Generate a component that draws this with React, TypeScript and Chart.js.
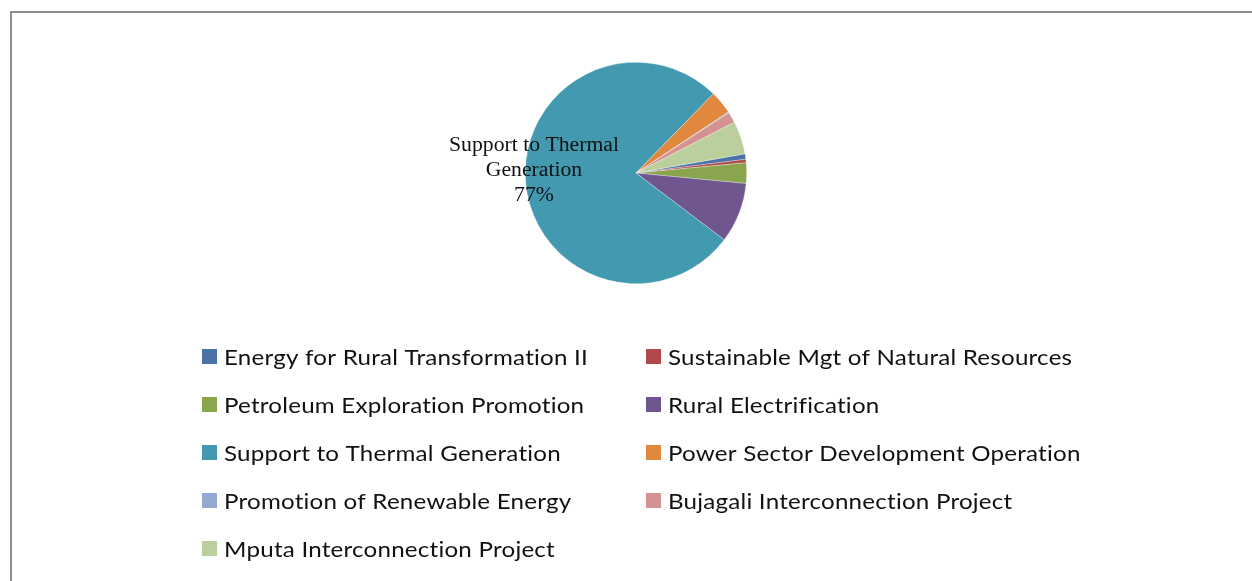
import React, { useEffect, useRef } from "react";
import { Chart, registerables } from "chart.js";

Chart.register(...registerables);

const categories = [
  "Energy for Rural Transformation II",
  "Sustainable Mgt of Natural Resources",
  "Petroleum Exploration Promotion",
  "Rural Electrification",
  "Support to Thermal Generation",
  "Power Sector Development Operation",
  "Promotion of Renewable Energy",
  "Bujagali Interconnection Project",
  "Mputa Interconnection Project",
];

const shares = [0.8, 0.5, 3.0, 8.8, 77.0, 3.4, 0.1, 1.6, 4.8];

const sliceColors = [
  "#4A72A8",
  "#B04A48",
  "#89A64F",
  "#70568F",
  "#4399B0",
  "#DF883E",
  "#93A9CF",
  "#D49392",
  "#BACF9B",
];

const calloutIndex = 4;
const calloutLines = ["Support to Thermal", "Generation"];

const calloutPlugin = {
  id: "callout",
  afterDatasetsDraw(chart: any) {
    const meta = chart.getDatasetMeta(0);
    const arc = meta.data[calloutIndex];
    if (!arc) return;
    const data = chart.data.datasets[0].data as number[];
    const total = data.reduce((a, b) => a + b, 0);
    const pct = Math.round((data[calloutIndex] / total) * 100) + "%";
    const lines = [...calloutLines, pct];
    const ctx = chart.ctx;
    ctx.save();
    ctx.font = "20px 'Liberation Serif', serif";
    ctx.fillStyle = "#111";
    ctx.textBaseline = "alphabetic";
    ctx.textAlign = "center";
    const sx = 170 / ctx.measureText(calloutLines[0]).width;
    const cx = arc.x - 102;
    const y0 = arc.y - 22;
    lines.forEach((t, i) => {
      ctx.save();
      ctx.translate(cx, y0 + i * 25);
      ctx.scale(sx, 1);
      ctx.fillText(t, 0, 0);
      ctx.restore();
    });
    ctx.restore();
  },
};

const legendPlugin = {
  id: "twoColLegend",
  afterDraw(chart: any) {
    const ctx = chart.ctx;
    const labels = chart.data.labels as string[];
    const colors = chart.data.datasets[0].backgroundColor as string[];
    const colX = [202, 646];
    const rowTop = 349;
    const rowGap = 48;
    const box = 15;
    ctx.save();
    ctx.font = "22px Lato, 'Open Sans', sans-serif";
    try {
      (ctx as any).letterSpacing = "0.2px";
    } catch (e) {}
    ctx.textBaseline = "alphabetic";
    ctx.textAlign = "left";
    const sx = 364 / ctx.measureText(labels[0]).width;
    labels.forEach((lab, i) => {
      const col = i % 2;
      const row = Math.floor(i / 2);
      const x = colX[col];
      const y = rowTop + row * rowGap;
      ctx.fillStyle = colors[i];
      ctx.fillRect(x, y, box, box);
      ctx.fillStyle = "#111";
      ctx.save();
      ctx.translate(x + 22, y + 16);
      ctx.scale(sx, 1);
      ctx.fillText(lab, 0, 0);
      ctx.restore();
    });
    ctx.restore();
  },
};

export default function App() {
  const ref = useRef<HTMLCanvasElement | null>(null);
  useEffect(() => {
    if (!ref.current) return;
    const chart = new Chart(ref.current, {
      type: "pie",
      data: {
        labels: categories,
        datasets: [
          {
            data: shares,
            backgroundColor: sliceColors,
            borderColor: "rgba(255,255,255,0.5)",
            borderWidth: 0.6,
          },
        ],
      },
      options: {
        animation: false,
        responsive: true,
        maintainAspectRatio: false,
        rotation: 80,
        layout: { padding: { left: 525, right: 505, top: 62, bottom: 297 } },
        plugins: {
          legend: { display: false },
          tooltip: { enabled: false },
          title: { display: false },
        },
      },
      plugins: [calloutPlugin, legendPlugin],
    });
    return () => chart.destroy();
  }, []);

  return (
    <div
      style={{
        position: "fixed",
        left: 0,
        top: 0,
        width: 1252,
        height: 581,
        background: "#fff",
        overflow: "hidden",
      }}
    >
      <div
        style={{
          position: "absolute",
          left: 10,
          top: 11,
          width: 1400,
          height: 800,
          border: "2px solid #8e8e8e",
          boxSizing: "border-box",
        }}
      />
      <div style={{ position: "absolute", left: 0, top: 0, width: 1252, height: 581 }}>
        <canvas ref={ref} />
      </div>
    </div>
  );
}
